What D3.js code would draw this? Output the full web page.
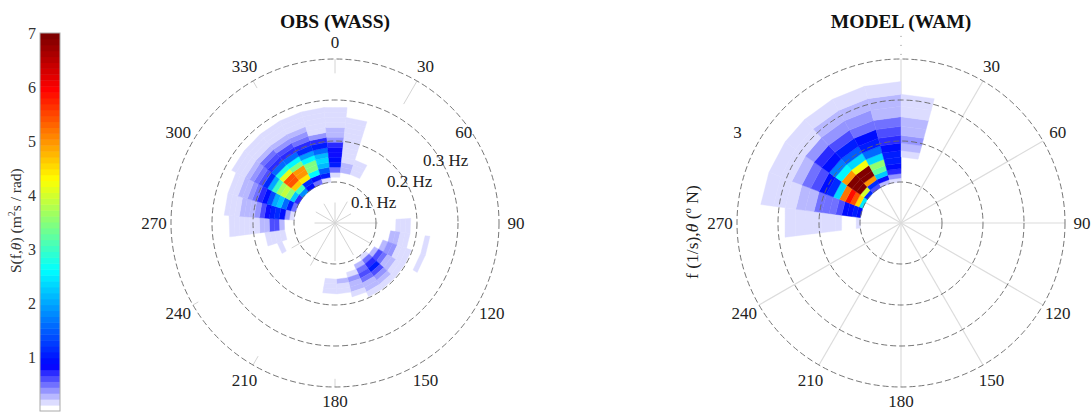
<!DOCTYPE html>
<html>
<head>
<meta charset="utf-8">
<script src="https://cdn.jsdelivr.net/npm/d3@7"></script>
<style>
body { margin: 0; background: #fff; }
text { font-family: "Liberation Serif", serif; }
</style>
</head>
<body>
<div id="chart"></div>
<script>
// spoke / label directions (deg, north clockwise)
const dirTicks = [0, 30, 60, 90, 120, 150, 180, 210, 240, 270, 300, 330];
const freqCircles = [0.1, 0.2, 0.3, 0.4];
const freqLabels = [0.1, 0.2, 0.3];
const cbarTicks = [1, 2, 3, 4, 5, 6, 7];
// left panel spokes only show near the centre and next to the outer circle (Hz)
const leftSpokeEnd = [0.05, 0.06, 0.045, 0.105, 0.1, 0.09, 0.093, 0.12, 0.122, 0.05, 0.054, 0.054];
const leftSpokeOuter = [0.365, 0.335, 0.4, 0.4, 0.4, 0.4, 0.38, 0.375, 0.385, 0.4, 0.4, 0.38];
const rightSpokeEnd = [0.4, 0.4, 0.4, 0.4, 0.4, 0.4, 0.4, 0.4, 0.4, 0.1, 0.1, 0.1];

// MODEL (WAM): direction bin edges, freq bin edges, one row of S per direction bin
const wamDirEdges = [-97, -82.5, -69, -55, -43, -29, -15, 0, 15];
const wamFreqEdges = [0.1, 0.11, 0.121, 0.133, 0.146, 0.161, 0.177, 0.195, 0.214, 0.236, 0.259, 0.285, 0.314, 0.345];
const wamValues = [
  [.12, 0, 0, 0, .12, .12, .12, .12, .12, .12, .12, 0, 0],
  [.9, 1.0, .95, .9, .6, .45, .45, .45, .3, .22, .12, .12, .12],
  [2.5, 4.5, 5.4, 5.8, 5.2, 2.4, 1.2, .9, .6, .45, .22, .12, .12],
  [1.2, 4, 7, 7, 7, 5, 2.6, 1.7, .9, .7, .33, .12, .12],
  [.6, 1.2, 5, 7, 7, 4.2, 2.4, 1.5, 1.0, .65, .33, .22, .12],
  [.3, .8, 2.2, 3.2, 3.6, 2.3, 1.6, 1.0, .9, .5, .33, .22, .12],
  [.2, .4, .7, .9, 1.0, 1.0, .9, .75, .55, .45, .3, .22, .12],
  [0, 0, 0, 0, 0, .12, .22, .33, .22, .22, .12, .12, 0]
];

// OBS (WASS)
const wassDirEdges = [-120, -109, -97.5, -86, -74.5, -63, -51.5, -40, -28.5, -17, -5.5, 6, 17.5, 29,
  40.5, 52, 63.5, 75, 86.5, 98, 109.5, 121, 132.5, 144, 155.5, 167, 178.5, 190];
const wassFreqEdges = [0.1, 0.112, 0.124, 0.137, 0.149, 0.161, 0.173, 0.185, 0.198, 0.21, 0.222, 0.234, 0.246, 0.259, 0.271, 0.283];
const wassValues = [
  [0, 0, 0, .12, 0, 0, 0, 0, 0, 0, 0, 0, 0, 0, 0],
  [0, 0, .12, .2, .2, .12, 0, 0, 0, 0, 0, 0, 0, 0, 0],
  [0, .1, .3, .6, .6, .3, .3, .12, .12, .12, .12, .12, .12, 0, 0],
  [.15, .4, .9, 1.1, 1.0, .8, .6, .35, .3, .22, .22, .12, .12, .12, 0],
  [.5, 1, 1.6, 2.2, 2.0, 1.4, .95, .7, .45, .35, .3, .22, .12, .12, 0],
  [.7, 2.2, 3.5, 3.9, 3.7, 3.0, 2.0, 1.1, .65, .5, .4, .25, .12, .12, .12],
  [1.8, 3.0, 4.6, 5.4, 5.4, 4.1, 2.8, 1.6, .7, .55, .45, .3, .2, .12, .12],
  [.9, 1.2, 4.4, 5.0, 5.0, 3.4, 2.6, 1.6, .7, .55, .4, .3, .2, .12, .12],
  [.5, .9, 2.6, 3.4, 3.4, 2.6, 1.9, 1.2, .7, .5, .35, .25, .12, .12, .12],
  [.2, 1, 1.5, 2.1, 2.4, 2.1, 1.6, 1.0, .7, .35, .2, .12, .12, .12, .12],
  [0, .12, .5, 1.0, .95, .85, .8, .7, .4, .22, .22, .12, .12, .12, .12],
  [0, 0, .25, .25, .12, .12, .12, .12, .12, .12, .12, .12, .12, 0, 0],
  [0, 0, .12, .12, .12, 0, 0, 0, 0, 0, 0, 0, 0, 0, 0],
  [0, 0, 0, 0, 0, 0, 0, 0, 0, 0, 0, 0, 0, 0, 0],
  [0, 0, 0, 0, 0, 0, 0, 0, 0, 0, 0, 0, 0, 0, 0],
  [0, 0, 0, 0, 0, 0, 0, 0, 0, 0, 0, 0, 0, 0, 0],
  [0, 0, 0, 0, 0, 0, 0, 0, 0, 0, 0, 0, 0, 0, 0],
  [0, 0, 0, 0, 0, 0, 0, 0, 0, 0, 0, 0, 0, 0, 0],
  [0, 0, 0, 0, .12, .12, .12, 0, 0, 0, 0, 0, 0, 0, 0],
  [0, 0, 0, .22, .22, .12, .12, 0, 0, 0, .12, 0, 0, 0, 0],
  [0, 0, .3, .4, .33, .12, .12, .12, 0, 0, .12, 0, 0, 0, 0],
  [0, .3, .55, .45, .3, .22, .12, .12, 0, 0, 0, 0, 0, 0, 0],
  [.2, .45, .7, 1.0, .6, .4, .22, .12, 0, 0, 0, 0, 0, 0, 0],
  [0, .3, .5, .6, .45, .3, .22, .12, 0, 0, 0, 0, 0, 0, 0],
  [0, 0, .12, .33, .3, .22, .12, 0, 0, 0, 0, 0, 0, 0, 0],
  [0, 0, 0, .22, .12, .12, 0, 0, 0, 0, 0, 0, 0, 0, 0],
  [0, 0, 0, .12, .12, .12, 0, 0, 0, 0, 0, 0, 0, 0, 0]
];

const width = 1091;
const height = 412;
const leftCx = 335, rightCx = 901, cy = 223;
const labelSize = 17;

const svg = d3.select("#chart")
    .append("svg")
    .attr("width", width)
    .attr("height", height)
    .style("display", "block");

svg.append("defs").append("filter")
    .attr("id", "soft")
    .attr("x", "-5%").attr("y", "-5%").attr("width", "110%").attr("height", "110%")
    .append("feGaussianBlur")
    .attr("stdDeviation", 0.7);

// white to blue below 0.8, then a jet map, cut in 64 levels like the colorbar
const ramp = d3.scaleLinear()
    .domain([0, 0.8, 2.6, 3.45, 4.3, 6, 7])
    .range(["#ffffff", "#0000ff", "#00ffff", "#80ff80", "#ffff00", "#ff0000", "#800000"]);
const color = d3.scaleQuantize()
    .domain([0, 7])
    .range(d3.range(64).map(i => ramp(i * 7 / 63)));

const r = d3.scaleLinear().domain([0, 0.4]).range([0, 164]);
const rad = d => d * Math.PI / 180;
const quad = d3.lineRadial().curve(d3.curveLinearClosed);

const draw_cells = function(g, dirEdges, freqEdges, values) {
    const cells = [];
    values.forEach((row, i) => row.forEach((v, j) => {
        if (v > 0) cells.push({v, a0: dirEdges[i], a1: dirEdges[i + 1], f0: freqEdges[j], f1: freqEdges[j + 1]});
    }));
    g.append("g")
        .attr("filter", "url(#soft)")
        .selectAll("path")
        .data(cells)
        .join("path")
        .attr("fill", d => color(d.v))
        .attr("stroke", d => color(d.v))
        .attr("stroke-width", 0.4)
        .attr("d", d => quad([
            [rad(d.a0), r(d.f0)], [rad(d.a0), r(d.f1)],
            [rad(d.a1), r(d.f1)], [rad(d.a1), r(d.f0)]
        ]));
};

const draw_circles = function(g) {
    g.selectAll("circle")
        .data(freqCircles)
        .join("circle")
        .attr("r", r)
        .attr("fill", "none")
        .attr("stroke", "#666")
        .attr("stroke-width", 0.9)
        .attr("stroke-dasharray", "6 3");
};

const draw_dir_labels = function(g, ticks) {
    const labels = g.selectAll("text")
        .data(ticks)
        .join("text")
        .attr("x", d => d3.pointRadial(rad(d), 181)[0])
        // 180 sits right on the bottom edge of the window
        .attr("y", d => d3.pointRadial(rad(d), 181)[1] - (d == 180 ? 3 : 0))
        .attr("dy", "0.35em")
        .attr("text-anchor", "middle")
        .attr("font-size", labelSize)
        .attr("fill", "#222")
        .text(d => d);
    return labels;
};

const title = function(x, txt) {
    svg.append("text")
        .attr("x", x)
        .attr("y", 28)
        .attr("text-anchor", "middle")
        .attr("font-size", 19.5)
        .attr("font-weight", "bold")
        .attr("fill", "#111")
        .text(txt);
};

// left panel
const left = svg.append("g").attr("transform", `translate(${leftCx},${cy})`);
left.append("g").selectAll("path")
    .data(dirTicks)
    .join("path")
    .attr("stroke", "#d4d4d4")
    .attr("d", (d, i) => `M0,0L${d3.pointRadial(rad(d), r(leftSpokeEnd[i]))}`
        + `M${d3.pointRadial(rad(d), r(leftSpokeOuter[i]))}L${d3.pointRadial(rad(d), r(0.4))}`);
draw_cells(left, wassDirEdges, wassFreqEdges, wassValues);
draw_circles(left);
draw_dir_labels(left.append("g"), dirTicks)
    .filter(d => d == 60)
    .attr("dx", -28);
left.append("g").selectAll("text")
    .data(freqLabels)
    .join("text")
    .attr("x", d => r(d) * 0.878 - 20)
    .attr("y", d => -r(d) * 0.51 + 6)
    .attr("font-size", labelSize)
    .attr("fill", "#222")
    .text(d => `${d} Hz`);
title(leftCx, "OBS (WASS)");

// right panel
const right = svg.append("g").attr("transform", `translate(${rightCx},${cy})`);
right.append("g").selectAll("line")
    .data(dirTicks)
    .join("line")
    .attr("stroke", "#dcdcdc")
    .attr("stroke-width", 1.2)
    .attr("x2", (d, i) => d3.pointRadial(rad(d), r(rightSpokeEnd[i]))[0])
    .attr("y2", (d, i) => d3.pointRadial(rad(d), r(rightSpokeEnd[i]))[1]);
draw_cells(right, wamDirEdges, wamFreqEdges, wamValues);
draw_circles(right);
draw_dir_labels(right.append("g"), dirTicks.filter(d => d != 0 && d != 300 && d != 330));
right.append("text")
    .attr("x", d3.pointRadial(rad(300), 181)[0] - 11)
    .attr("y", d3.pointRadial(rad(300), 181)[1])
    .attr("dy", "0.35em")
    .attr("font-size", labelSize)
    .attr("fill", "#222")
    .text("3");
right.append("path")
    .attr("stroke", "#888")
    .attr("stroke-dasharray", "1 8")
    .attr("d", `M${d3.pointRadial(0, r(0.41))}L${d3.pointRadial(0, r(0.47))}`);
title(rightCx, "MODEL (WAM)");

// y label of the right panel
const rightLabel = svg.append("text")
    .attr("transform", "translate(698,279) rotate(-90)")
    .attr("font-size", 17.5)
    .attr("fill", "#222");
rightLabel.append("tspan").text("f (1/s),");
rightLabel.append("tspan").attr("font-style", "italic").text("θ");
rightLabel.append("tspan").text(" (");
rightLabel.append("tspan").attr("font-size", 11).attr("dy", -7).text("o");
rightLabel.append("tspan").attr("dy", 7).text(" N)");

// colorbar
const cbarY = d3.scaleLinear().domain([0, 7]).range([411, 33]);
const cbar = svg.append("g");
cbar.selectAll("rect")
    .data(color.range())
    .join("rect")
    .attr("x", 40)
    .attr("width", 20)
    .attr("y", (d, i) => cbarY((i + 1) * 7 / 64))
    .attr("height", cbarY(0) - cbarY(7 / 64) + 0.5)
    .attr("fill", d => d);
cbar.append("rect")
    .attr("x", 40)
    .attr("y", cbarY(7))
    .attr("width", 20)
    .attr("height", cbarY(0) - cbarY(7))
    .attr("fill", "none")
    .attr("stroke", "#aaa");
const cbarAxis = svg.append("g")
    .attr("transform", "translate(36,0)")
    .call(d3.axisLeft(cbarY).tickValues(cbarTicks).tickSize(0).tickPadding(0).tickFormat(d3.format("d")));
cbarAxis.select(".domain").remove();
cbarAxis.selectAll("text")
    .attr("font-family", "Liberation Serif")
    .attr("font-size", 16)
    .attr("fill", "#333");
const cbarLabel = svg.append("text")
    .attr("transform", "translate(21,273) rotate(-90)")
    .attr("font-size", 15.5)
    .attr("fill", "#333");
cbarLabel.append("tspan").text("S(f,");
cbarLabel.append("tspan").attr("font-style", "italic").text("θ");
cbarLabel.append("tspan").text(") (m");
cbarLabel.append("tspan").attr("font-size", 10).attr("dy", -6).text("2");
cbarLabel.append("tspan").attr("dy", 6).text("s / rad)");
</script>
</body>
</html>
